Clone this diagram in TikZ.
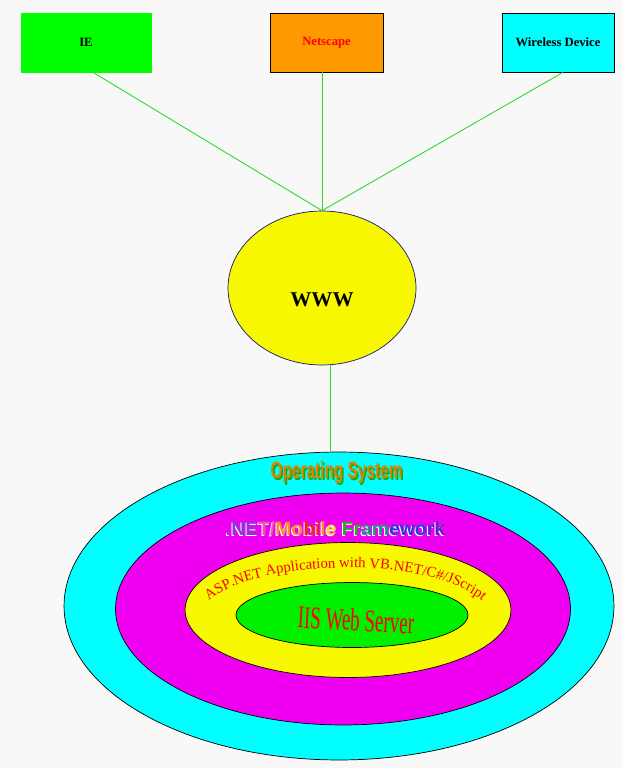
\documentclass[tikz,border=0pt]{standalone}
\usepackage{fontspec}
\setmainfont{Liberation Serif}
\setsansfont{Liberation Sans}
\usetikzlibrary{shapes.geometric,decorations.text}

\definecolor{bggray}{RGB}{248,248,248}
\definecolor{iegreen}{RGB}{0,255,0}
\definecolor{nsorange}{RGB}{255,153,0}
\definecolor{wlcyan}{RGB}{0,255,255}
\definecolor{wwwyellow}{RGB}{248,248,0}
\definecolor{wwwnavy}{RGB}{20,20,120}
\definecolor{linkgreen}{RGB}{40,220,40}
\definecolor{oscyan}{RGB}{0,255,255}
\definecolor{fwmagenta}{RGB}{240,0,240}
\definecolor{appyellow}{RGB}{248,248,0}
\definecolor{iisgreen}{RGB}{0,240,0}
\definecolor{osorange}{RGB}{220,130,0}
\definecolor{osgreen}{RGB}{20,170,20}
\definecolor{fwviolet}{RGB}{130,60,210}
\definecolor{fwpink}{RGB}{230,90,170}
\definecolor{fworange}{RGB}{250,140,40}
\definecolor{fwred}{RGB}{235,40,30}
\definecolor{fwyellow}{RGB}{250,220,40}
\definecolor{fwgreen}{RGB}{40,170,40}
\definecolor{fwteal}{RGB}{30,150,140}
\definecolor{fwblue}{RGB}{40,60,220}
\definecolor{fwindigo}{RGB}{80,40,200}

\tikzset{
  client/.style = {draw=black, minimum height=1.18cm, inner sep=0pt,
    font=\bfseries\fontsize{7.2}{8}\selectfont},
  layer/.style = {ellipse, draw=black, inner sep=0pt},
  link/.style = {draw=linkgreen, line width=0.5pt}
}

\newcommand{\fwtext}{\textcolor{fwviolet}{.NE}\textcolor{fwpink}{T/}%
  \textcolor{fworange}{Mo}\textcolor{fwred}{bi}\textcolor{fworange}{l}%
  \textcolor{fwyellow}{e} \textcolor{fwgreen}{Fr}\textcolor{fwteal}{am}%
  \textcolor{fwblue}{ewo}\textcolor{fwindigo}{rk}}

\begin{document}
\begin{tikzpicture}[x=0.02cm, y=-0.02cm]
\fill[bggray] (0,0) rectangle (623,768);
\useasboundingbox (0,0) rectangle (623,768);

% clients
\node [client, fill=iegreen, draw=iegreen, minimum width=2.6cm] (ie) at (86,42.5) {IE};
\node [client, fill=nsorange, minimum width=2.26cm, text=red] (netscape) at (326.5,42.5) {Netscape};
\node [client, fill=wlcyan, minimum width=2.24cm] (wireless) at (558,42.5) {Wireless Device};

% web
\node [ellipse, draw=wwwnavy, fill=wwwyellow, inner sep=0pt,
  minimum width=3.76cm, minimum height=3.08cm] (www) at (322,288) {};
\node [font=\bfseries\fontsize{12}{14}\selectfont] (wwwtext) at (322,300) {WWW};

\draw [link] ([xshift=0.14cm]ie.south) -- (www.north);
\draw [link] (www.north |- netscape.south) -- (www.north);
\draw [link] ([xshift=0.1cm]wireless.south) -- (www.north);

% server layers
\node [layer, fill=oscyan, minimum width=11cm, minimum height=6.16cm] (os) at (339,606) {};
\node [layer, fill=fwmagenta, minimum width=9.1cm, minimum height=4.64cm] (framework) at (343,609) {};
\node [layer, fill=appyellow, minimum width=6.52cm, minimum height=2.7cm] (app) at (348,610) {};
\node [layer, fill=iisgreen, minimum width=4.64cm, minimum height=1.3cm] (iis) at (352,615) {};

\draw [link] (www.-84) -- (www.-84 |- os.north);

% labels
\node [font=\sffamily\bfseries\fontsize{13.5}{14}\selectfont, text=osgreen] (osshadow) at (338,474)
  {\scalebox{0.65}[1]{Operating System}};
\node [font=\sffamily\bfseries\fontsize{13.5}{14}\selectfont, text=osorange] (ostext) at (336.5,472)
  {\scalebox{0.65}[1]{Operating System}};
\node [font=\sffamily\bfseries\fontsize{11}{12}\selectfont, text=white] (fwshadow) at (334.5,529.5) {.NET/Mobile Framework};
\node [font=\sffamily\bfseries\fontsize{11}{12}\selectfont] (fwtext) at (335.5,528.5) {\fwtext};
\path [decorate, decoration={text along path, text align=center,
  text={|\fontsize{8.4}{10}\selectfont\color{red}|ASP.NET Application with VB.NET/C{\#}/JScript}}]
  (205,604) .. controls (250,558) and (432,553) .. (486,604);
\node [text=red, font=\fontsize{18}{20}\selectfont, rotate=-3] (iistext) at (356,620)
  {\scalebox{0.6}[1]{IIS Web Server}};
\end{tikzpicture}
\end{document}
